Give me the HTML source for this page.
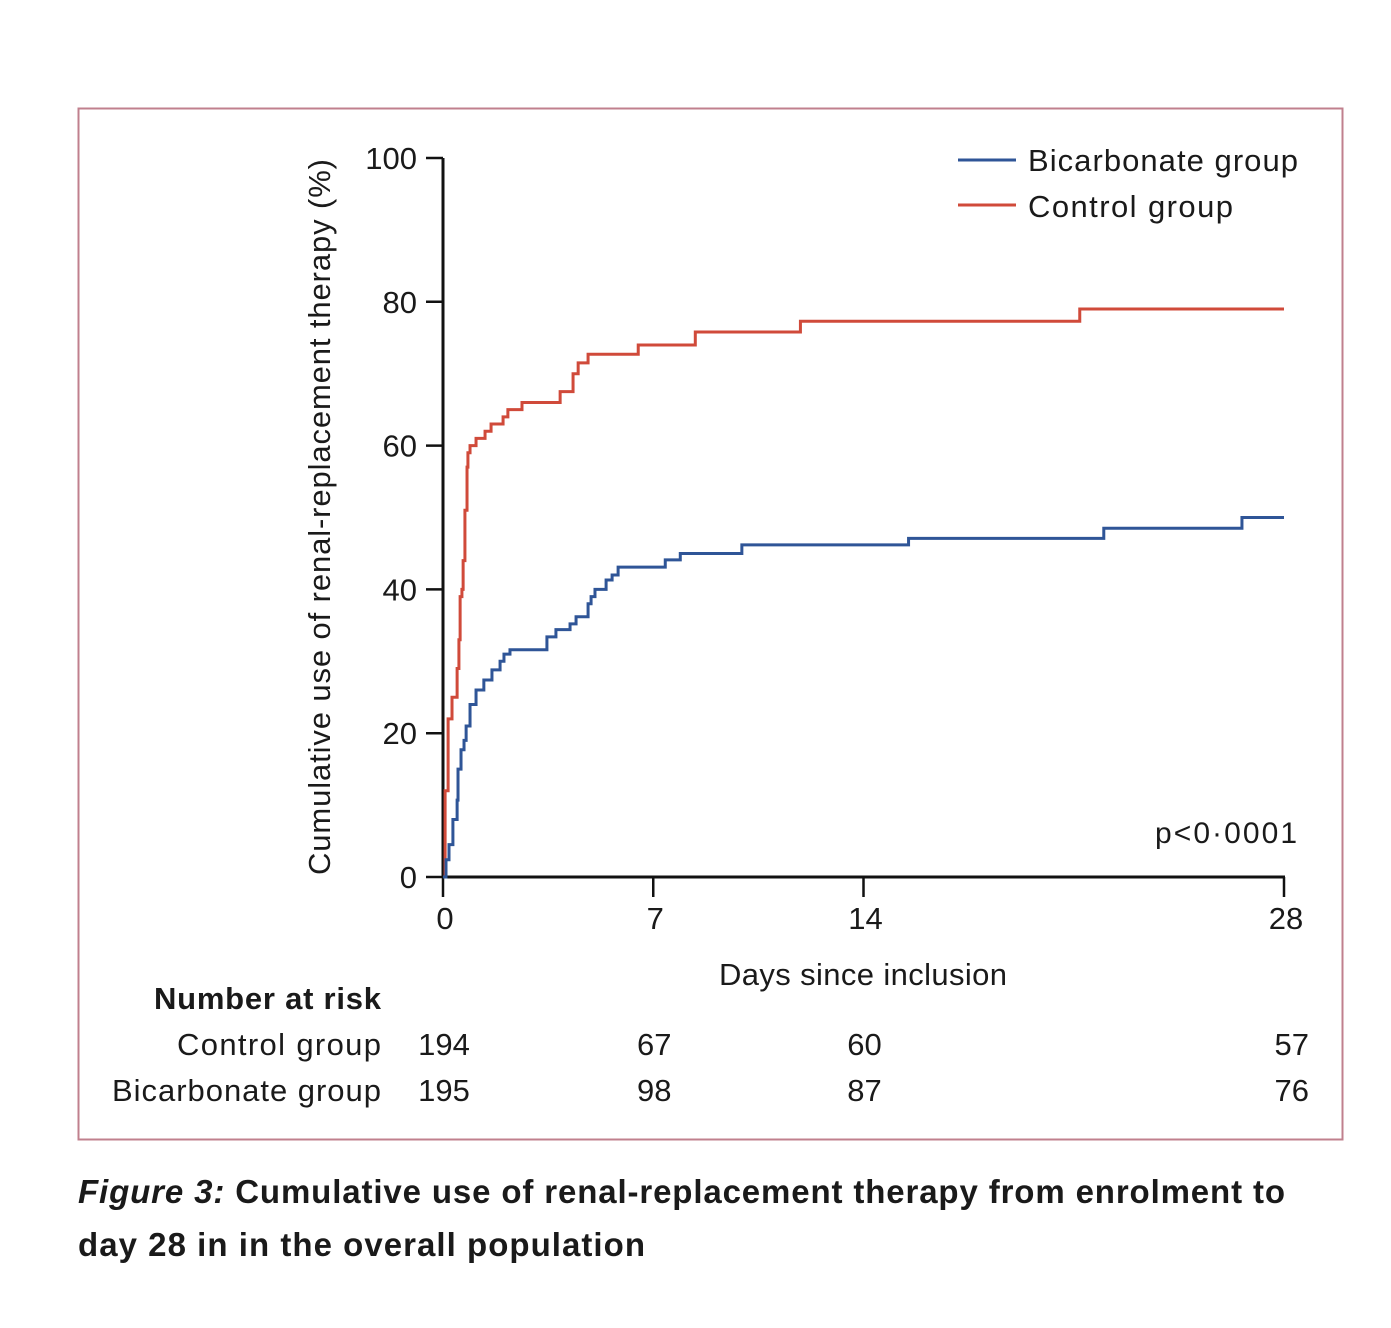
<!DOCTYPE html>
<html><head><meta charset="utf-8"><style>
html,body{margin:0;padding:0;background:#fff;width:1391px;height:1328px;overflow:hidden}
svg text{font-family:"Liberation Sans",sans-serif;fill:#1a1a1a}
</style></head><body>
<svg id="chart" width="1391" height="1328" viewBox="0 0 1391 1328">
<rect x="78.5" y="108.5" width="1264" height="1031" fill="none" stroke="#c0808e" stroke-width="2"/>
<g id="axes"></g>
<g id="series"></g>
<g>
<line x1="958" y1="160" x2="1016" y2="160" stroke="#2f5597" stroke-width="3"/>
<text x="1028" y="171" font-size="31" textLength="270">Bicarbonate group</text>
<line x1="958" y1="205" x2="1016" y2="205" stroke="#d04a3a" stroke-width="3"/>
<text x="1028" y="217" font-size="31" textLength="205">Control group</text>
</g>
<text x="1297" y="843" font-size="30" text-anchor="end" textLength="142">p&lt;0·0001</text>
<text x="863" y="985" font-size="31" text-anchor="middle" textLength="288">Days since inclusion</text>
<text transform="translate(330,517) rotate(-90)" font-size="31" text-anchor="middle" textLength="716">Cumulative use of renal-replacement therapy (%)</text>
<text x="381" y="1009" font-size="31" font-weight="bold" text-anchor="end" textLength="227">Number at risk</text>
<text x="381" y="1055" font-size="31" text-anchor="end" textLength="204">Control group</text>
<text x="381" y="1101" font-size="31" text-anchor="end" textLength="269">Bicarbonate group</text>
<g id="risk"></g>
<text x="78" y="1203" font-size="33" font-weight="bold" textLength="1207"><tspan font-style="italic">Figure 3:</tspan> Cumulative use of renal-replacement therapy from enrolment to</text>
<text x="78" y="1256" font-size="33" font-weight="bold" textLength="567">day 28 in in the overall population</text>
</svg>
<script>
const xTicks=[0,7,14,28];
const yTicks=[0,20,40,60,80,100];
const riskDays=[0,7,14,28];
const riskControl=[194,67,60,57];
const riskBicarb=[195,98,87,76];
const controlDays=[0,0.07,0.17,0.3,0.47,0.53,0.57,0.63,0.67,0.73,0.8,0.83,0.9,1.1,1.4,1.6,2.0,2.16,2.63,3.9,4.33,4.5,4.83,6.5,8.4,11.9,21.2];
const controlPct=[0,12,22,25,29,33,39,40,44,51,57,59,60,61,62,63,64,65,66,67.5,70,71.5,72.7,74,75.8,77.3,79];
const bicarbDays=[0,0.1,0.2,0.33,0.47,0.5,0.6,0.7,0.77,0.9,1.1,1.36,1.63,1.9,2.03,2.23,3.46,3.76,4.23,4.43,4.83,4.93,5.06,5.43,5.63,5.83,7.4,7.9,9.95,15.5,22.0,26.6];
const bicarbPct=[0,2.4,4.5,8,10.7,15,17.7,19,21,24,26,27.4,28.8,30,31,31.6,33.4,34.4,35.2,36.2,38,39,40,41.3,42,43.1,44.1,45,46.2,47.1,48.5,50];
const X0=443,X1=1284,Y0=877,Y1=158,NS="http://www.w3.org/2000/svg";
const xs=d=>X0+(X1-X0)*d/28, ys=p=>Y0-(Y0-Y1)*p/100;
function mk(tag,attrs,parent){const e=document.createElementNS(NS,tag);for(const k in attrs)e.setAttribute(k,attrs[k]);parent.appendChild(e);return e;}
const axes=document.getElementById('axes');
let a=mk('line',{x1:X0,y1:Y1,x2:X0,y2:Y0+1,stroke:'#111','stroke-width':3},axes);


a=mk('line',{x1:X0-1,y1:Y0,x2:X1+1,y2:Y0,stroke:'#111','stroke-width':3},axes);


yTicks.forEach(v=>{
 const t=mk('line',{x1:X0-17,x2:X0,y1:ys(v),y2:ys(v),stroke:'#111','stroke-width':2.5},axes);
 
 
 const l=mk('text',{x:X0-26,y:ys(v)+11,'font-size':31,'text-anchor':'end'},axes);l.textContent=v;
 
 
});
xTicks.forEach(v=>{
 const t=mk('line',{x1:xs(v),x2:xs(v),y1:Y0,y2:Y0+20,stroke:'#111','stroke-width':2.5},axes);
 
 
 const l=mk('text',{x:xs(v)+2,y:Y0+52,'font-size':31,'text-anchor':'middle'},axes);l.textContent=v;
 
 
});
function step(days,pct,color,name){
 let d='M'+xs(days[0])+' '+ys(pct[0]);
 for(let i=1;i<days.length;i++){d+=' H'+xs(days[i])+' V'+ys(pct[i]);}
 d+=' H'+xs(28);
 const p=mk('path',{d:d,fill:'none',stroke:color,'stroke-width':3},document.getElementById('series'));
 
 
}
step(controlDays,controlPct,'#d04a3a','control-curve');
step(bicarbDays,bicarbPct,'#2f5597','bicarbonate-curve');
const risk=document.getElementById('risk');
riskDays.forEach((d,i)=>{
 const last=i===riskDays.length-1;
 const x=last?1309:xs(d)+(i===0?0:1);
 const anc=last?'end':'middle';
 const cx=i===0?444:x;
 let t=mk('text',{x:cx,y:1055,'font-size':31,'text-anchor':anc},risk);t.textContent=riskControl[i];
 
 
 t=mk('text',{x:cx,y:1101,'font-size':31,'text-anchor':anc},risk);t.textContent=riskBicarb[i];
 
 
});
</script>
</body></html>
